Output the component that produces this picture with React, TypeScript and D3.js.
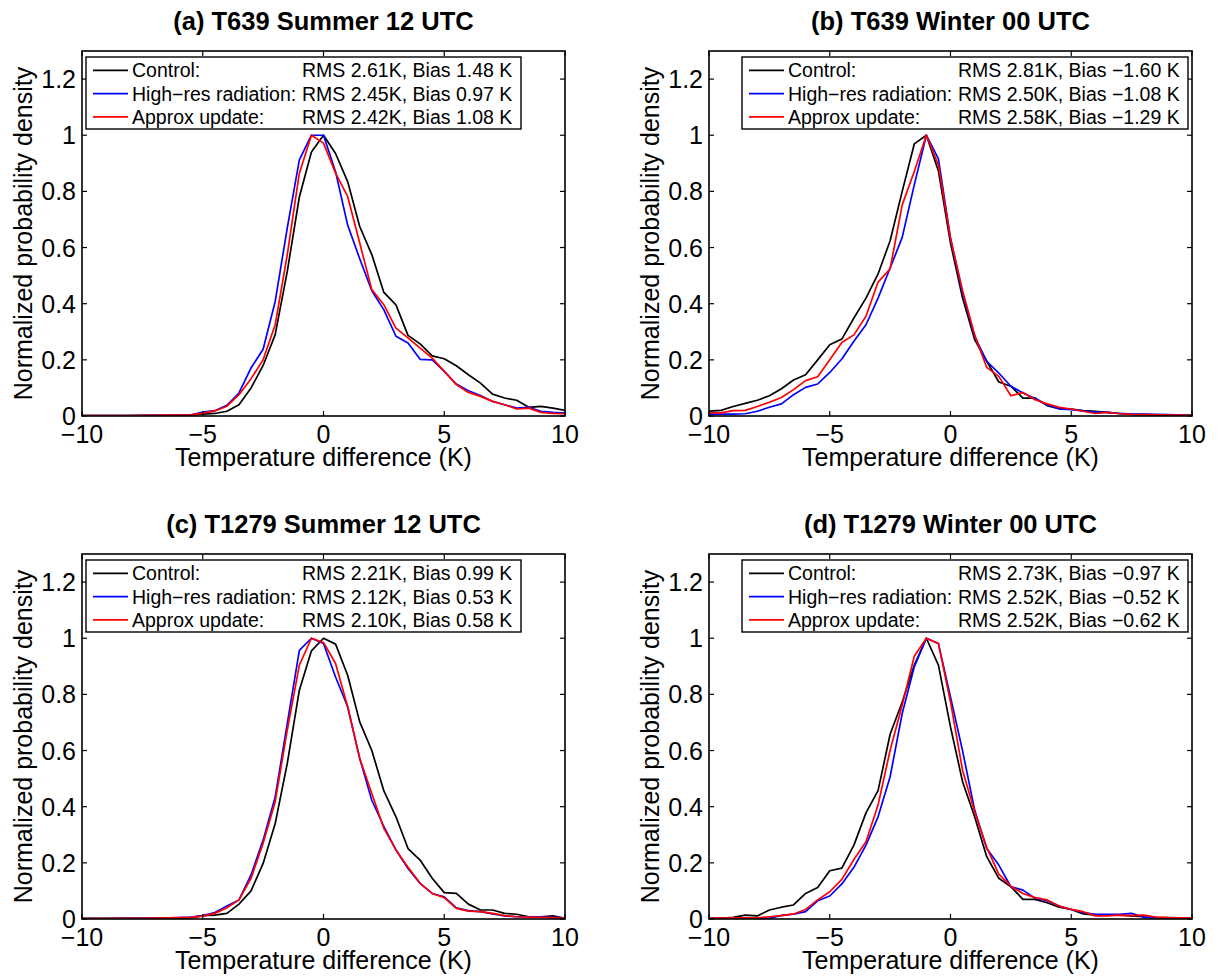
import React from 'react';
import * as d3 from 'd3';

// ---------- data ----------
const xGrid = [
  -10, -9.5, -9, -8.5, -8, -7.5, -7, -6.5, -6, -5.5, -5, -4.5, -4, -3.5, -3, -2.5, -2, -1.5, -1, -0.5,
  0, 0.5, 1, 1.5, 2, 2.5, 3, 3.5, 4, 4.5, 5, 5.5, 6, 6.5, 7, 7.5, 8, 8.5, 9, 9.5, 10,
];

const panelTitles = [
  '(a) T639 Summer 12 UTC',
  '(b) T639 Winter 00 UTC',
  '(c) T1279 Summer 12 UTC',
  '(d) T1279 Winter 00 UTC',
];

const seriesNames = ['Control:', 'High\u2212res radiation:', 'Approx update:'];
const seriesColors = ['#000000', '#0000ff', '#ff0000'];

const statsA = ['RMS 2.61K, Bias 1.48 K', 'RMS 2.45K, Bias 0.97 K', 'RMS 2.42K, Bias 1.08 K'];
const statsB = ['RMS 2.81K, Bias \u22121.60 K', 'RMS 2.50K, Bias \u22121.08 K', 'RMS 2.58K, Bias \u22121.29 K'];
const statsC = ['RMS 2.21K, Bias 0.99 K', 'RMS 2.12K, Bias 0.53 K', 'RMS 2.10K, Bias 0.58 K'];
const statsD = ['RMS 2.73K, Bias \u22120.97 K', 'RMS 2.52K, Bias \u22120.52 K', 'RMS 2.52K, Bias \u22120.62 K'];

// (a) T639 Summer
const controlA = [0.001, 0.001, 0.001, 0.001, 0.001, 0.002, 0.002, 0.002, 0.003, 0.004, 0.007, 0.009, 0.017, 0.04, 0.1, 0.18, 0.29, 0.515, 0.78, 0.94, 1.0, 0.935, 0.835, 0.675, 0.575, 0.44, 0.396, 0.287, 0.257, 0.214, 0.204, 0.179, 0.147, 0.117, 0.078, 0.064, 0.056, 0.031, 0.034, 0.028, 0.02];
const hiresA = [0.001, 0.001, 0.001, 0.001, 0.001, 0.001, 0.002, 0.002, 0.002, 0.003, 0.014, 0.019, 0.038, 0.082, 0.171, 0.238, 0.408, 0.67, 0.912, 1.0, 1.0, 0.87, 0.68, 0.56, 0.446, 0.378, 0.284, 0.26, 0.202, 0.2, 0.159, 0.114, 0.09, 0.073, 0.052, 0.04, 0.028, 0.031, 0.017, 0.013, 0.01];
const approxA = [0.001, 0.001, 0.001, 0.001, 0.001, 0.002, 0.002, 0.003, 0.003, 0.004, 0.01, 0.018, 0.035, 0.076, 0.133, 0.2, 0.325, 0.575, 0.865, 1.0, 0.972, 0.865, 0.782, 0.616, 0.45, 0.396, 0.313, 0.278, 0.242, 0.206, 0.159, 0.112, 0.084, 0.07, 0.052, 0.04, 0.025, 0.028, 0.013, 0.009, 0.008];

// (b) T639 Winter
const controlB = [0.017, 0.02, 0.034, 0.045, 0.056, 0.072, 0.097, 0.128, 0.147, 0.2, 0.254, 0.274, 0.349, 0.42, 0.506, 0.624, 0.8, 0.969, 1.0, 0.873, 0.616, 0.42, 0.272, 0.195, 0.121, 0.106, 0.064, 0.064, 0.037, 0.026, 0.025, 0.019, 0.017, 0.013, 0.009, 0.006, 0.005, 0.004, 0.004, 0.002, 0.002];
const hiresB = [0.007, 0.007, 0.007, 0.008, 0.017, 0.031, 0.043, 0.076, 0.102, 0.114, 0.155, 0.203, 0.266, 0.325, 0.42, 0.527, 0.636, 0.823, 1.0, 0.916, 0.633, 0.438, 0.284, 0.195, 0.153, 0.106, 0.082, 0.062, 0.04, 0.025, 0.023, 0.018, 0.014, 0.013, 0.009, 0.007, 0.007, 0.006, 0.005, 0.004, 0.003];
const approxB = [0.011, 0.011, 0.019, 0.02, 0.034, 0.049, 0.066, 0.094, 0.126, 0.14, 0.2, 0.262, 0.289, 0.355, 0.477, 0.524, 0.752, 0.871, 1.0, 0.894, 0.633, 0.446, 0.289, 0.173, 0.141, 0.072, 0.084, 0.058, 0.043, 0.031, 0.025, 0.017, 0.009, 0.013, 0.008, 0.006, 0.005, 0.004, 0.003, 0.003, 0.002];

// (c) T1279 Summer
const controlC = [0.002, 0.002, 0.002, 0.002, 0.002, 0.002, 0.002, 0.003, 0.003, 0.004, 0.012, 0.014, 0.02, 0.053, 0.1, 0.198, 0.34, 0.554, 0.815, 0.955, 1.0, 0.979, 0.868, 0.702, 0.6, 0.456, 0.364, 0.251, 0.21, 0.145, 0.094, 0.091, 0.053, 0.032, 0.032, 0.02, 0.017, 0.008, 0.008, 0.011, 0.002];
const hiresC = [0.001, 0.001, 0.001, 0.002, 0.002, 0.002, 0.003, 0.003, 0.005, 0.007, 0.012, 0.023, 0.046, 0.068, 0.157, 0.281, 0.435, 0.696, 0.957, 1.0, 0.981, 0.862, 0.756, 0.572, 0.423, 0.329, 0.246, 0.18, 0.127, 0.091, 0.079, 0.04, 0.03, 0.026, 0.018, 0.011, 0.008, 0.008, 0.008, 0.006, 0.004];
const approxC = [0.001, 0.001, 0.001, 0.002, 0.002, 0.002, 0.003, 0.004, 0.005, 0.006, 0.01, 0.02, 0.04, 0.068, 0.145, 0.27, 0.418, 0.673, 0.904, 1.0, 0.985, 0.91, 0.756, 0.572, 0.447, 0.323, 0.246, 0.184, 0.127, 0.091, 0.076, 0.038, 0.028, 0.026, 0.02, 0.012, 0.008, 0.007, 0.006, 0.005, 0.002];

// (d) T1279 Winter
const controlD = [0.002, 0.002, 0.006, 0.014, 0.011, 0.032, 0.042, 0.05, 0.091, 0.112, 0.172, 0.181, 0.263, 0.378, 0.457, 0.658, 0.773, 0.904, 1.0, 0.904, 0.684, 0.489, 0.364, 0.222, 0.145, 0.115, 0.07, 0.07, 0.058, 0.042, 0.034, 0.018, 0.014, 0.014, 0.014, 0.011, 0.008, 0.006, 0.005, 0.004, 0.004];
const hiresD = [0.001, 0.002, 0.002, 0.003, 0.003, 0.002, 0.013, 0.017, 0.026, 0.065, 0.082, 0.125, 0.184, 0.263, 0.364, 0.507, 0.732, 0.898, 1.0, 0.981, 0.791, 0.599, 0.388, 0.251, 0.192, 0.115, 0.103, 0.074, 0.065, 0.046, 0.034, 0.023, 0.017, 0.017, 0.017, 0.02, 0.006, 0.004, 0.004, 0.002, 0.002];
const approxD = [0.002, 0.003, 0.004, 0.004, 0.004, 0.008, 0.012, 0.018, 0.034, 0.068, 0.097, 0.141, 0.212, 0.275, 0.406, 0.601, 0.762, 0.936, 1.0, 0.981, 0.773, 0.53, 0.382, 0.255, 0.16, 0.117, 0.091, 0.076, 0.068, 0.046, 0.034, 0.026, 0.011, 0.011, 0.014, 0.012, 0.014, 0.007, 0.005, 0.004, 0.004];

const xTicks = [-10, -5, 0, 5, 10];
const yTicks = [0, 0.2, 0.4, 0.6, 0.8, 1, 1.2];
const xLabel = 'Temperature difference (K)';
const yLabel = 'Normalized probability density';

// ---------- layout ----------
const W = 1218;
const H = 978;
const PW = 483;
const PH = 365;
const FONT = '"Liberation Sans", Arial, Helvetica, sans-serif';

const panels = [
  { left: 82, top: 51, title: panelTitles[0], series: [controlA, hiresA, approxA], stats: statsA, legendRight: false, legendW: 435 },
  { left: 709, top: 51, title: panelTitles[1], series: [controlB, hiresB, approxB], stats: statsB, legendRight: true, legendW: 446 },
  { left: 82, top: 554, title: panelTitles[2], series: [controlC, hiresC, approxC], stats: statsC, legendRight: false, legendW: 435 },
  { left: 709, top: 554, title: panelTitles[3], series: [controlD, hiresD, approxD], stats: statsD, legendRight: true, legendW: 446 },
];

const fmtTick = (v: number) => String(v).replace('-', '\u2212');

function Panel({ p, idx }: { p: typeof panels[0]; idx: number }) {
  const x = d3.scaleLinear().domain([-10, 10]).range([0, PW]);
  const y = d3.scaleLinear().domain([0, 1.3]).range([PH, 0]);
  const line = d3
    .line<number>()
    .x((_, i) => x(xGrid[i]))
    .y((d) => y(d));
  const tick = 5;
  const legX = p.legendRight ? PW - 4 - p.legendW : 4;
  const legY = 6;
  const legH = 72;
  const clipId = `clip${idx}`;
  return (
    <g transform={`translate(${p.left},${p.top})`}>
      <defs>
        <clipPath id={clipId}>
          <rect x={0} y={0} width={PW} height={PH} />
        </clipPath>
      </defs>
      <rect x={0} y={0} width={PW} height={PH} fill="#fff" />
      {/* title */}
      <text x={PW / 2} y={-21.5} textAnchor="middle" fontFamily={FONT} fontWeight="bold" fontSize={25.5} fill="#000">
        {p.title}
      </text>
      {/* series */}
      <g clipPath={`url(#${clipId})`}>
        {p.series.map((s, i) => (
          <path key={i} d={line(s) || ''} fill="none" stroke={seriesColors[i]} strokeWidth={1.7} strokeLinejoin="round" />
        ))}
      </g>
      {/* ticks */}
      {xTicks.map((t) => (
        <g key={`x${t}`}>
          <line x1={x(t)} x2={x(t)} y1={PH} y2={PH - tick} stroke="#000" strokeWidth={1.2} />
          <line x1={x(t)} x2={x(t)} y1={0} y2={tick} stroke="#000" strokeWidth={1.2} />
          <text x={x(t)} y={PH + 27} textAnchor="middle" fontFamily={FONT} fontSize={25} fill="#000">
            {fmtTick(t)}
          </text>
        </g>
      ))}
      {yTicks.map((t) => (
        <g key={`y${t}`}>
          <line x1={0} x2={tick} y1={y(t)} y2={y(t)} stroke="#000" strokeWidth={1.2} />
          <line x1={PW} x2={PW - tick} y1={y(t)} y2={y(t)} stroke="#000" strokeWidth={1.2} />
          <text x={-6} y={y(t) + 9} textAnchor="end" fontFamily={FONT} fontSize={25} fill="#000">
            {fmtTick(t)}
          </text>
        </g>
      ))}
      {/* box */}
      <rect x={0} y={0} width={PW} height={PH} fill="none" stroke="#000" strokeWidth={1.6} />
      {/* axis labels */}
      <text x={PW / 2} y={PH + 50} textAnchor="middle" fontFamily={FONT} fontSize={25} fill="#000">
        {xLabel}
      </text>
      <text
        transform={`translate(${-50},${PH / 2}) rotate(-90)`}
        textAnchor="middle"
        fontFamily={FONT}
        fontSize={25}
        fill="#000"
      >
        {yLabel}
      </text>
      {/* legend */}
      <g transform={`translate(${legX},${legY})`}>
        <rect x={0} y={0} width={p.legendW} height={legH} fill="#fff" stroke="#000" strokeWidth={1.4} />
        {seriesNames.map((n, i) => {
          const ry = 13.3 + i * 23.3;
          return (
            <g key={n}>
              <line x1={7} x2={42} y1={ry} y2={ry} stroke={seriesColors[i]} strokeWidth={1.7} />
              <text x={46} y={ry + 7} fontFamily={FONT} fontSize={19.5} fill="#000">
                {n}
              </text>
              <text x={216} y={ry + 7} fontFamily={FONT} fontSize={19.5} fill="#000">
                {p.stats[i]}
              </text>
            </g>
          );
        })}
      </g>
    </g>
  );
}

export default function App() {
  return (
    <svg
      width={W}
      height={H}
      viewBox={`0 0 ${W} ${H}`}
      style={{ position: 'absolute', left: 0, top: 0, background: '#fff' }}
    >
      <rect x={0} y={0} width={W} height={H} fill="#fff" />
      {panels.map((p, i) => (
        <Panel key={i} p={p} idx={i} />
      ))}
    </svg>
  );
}
